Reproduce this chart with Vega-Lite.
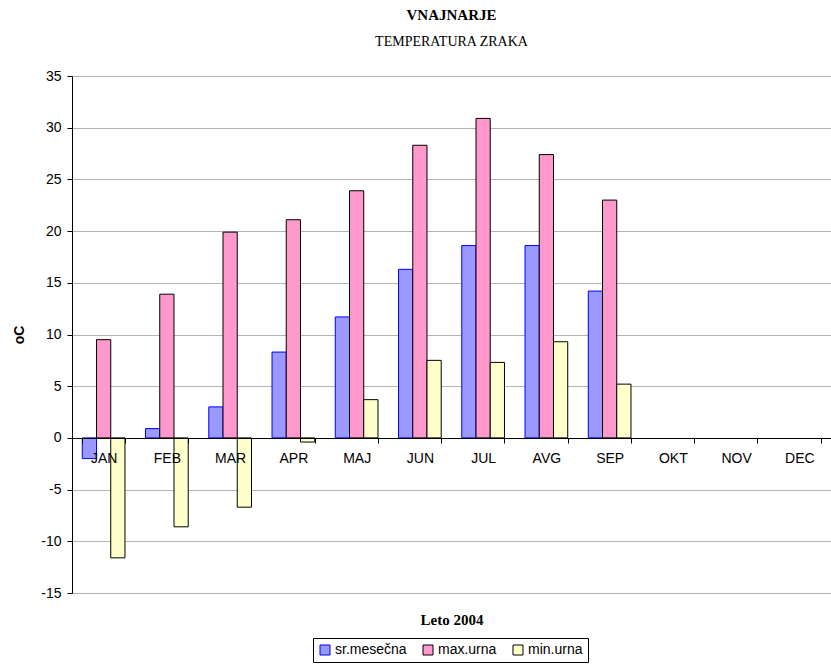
{
  "$schema": "https://vega.github.io/schema/vega-lite/v6.json",
  "width": 759,
  "height": 517,
  "autosize": {"type": "none"},
  "padding": {"left": 72, "top": 76, "right": 0, "bottom": 71},
  "background": "white",
  "title": {
    "text": "VNAJNARJE",
    "subtitle": "TEMPERATURA ZRAKA",
    "font": "Liberation Serif",
    "fontSize": 15,
    "fontWeight": "bold",
    "color": "black",
    "subtitleFont": "Liberation Serif",
    "subtitleFontSize": 14,
    "subtitleColor": "black",
    "anchor": "middle",
    "offset": 20,
    "subtitlePadding": 12
  },
  "data": {
    "values": [
      {"month": "JAN", "series": "sr.mesečna", "value": -2.0},
      {"month": "JAN", "series": "max.urna", "value": 9.5},
      {"month": "JAN", "series": "min.urna", "value": -11.6},
      {"month": "FEB", "series": "sr.mesečna", "value": 0.9},
      {"month": "FEB", "series": "max.urna", "value": 13.9},
      {"month": "FEB", "series": "min.urna", "value": -8.6},
      {"month": "MAR", "series": "sr.mesečna", "value": 3.0},
      {"month": "MAR", "series": "max.urna", "value": 19.9},
      {"month": "MAR", "series": "min.urna", "value": -6.7},
      {"month": "APR", "series": "sr.mesečna", "value": 8.3},
      {"month": "APR", "series": "max.urna", "value": 21.1},
      {"month": "APR", "series": "min.urna", "value": -0.4},
      {"month": "MAJ", "series": "sr.mesečna", "value": 11.7},
      {"month": "MAJ", "series": "max.urna", "value": 23.9},
      {"month": "MAJ", "series": "min.urna", "value": 3.7},
      {"month": "JUN", "series": "sr.mesečna", "value": 16.3},
      {"month": "JUN", "series": "max.urna", "value": 28.3},
      {"month": "JUN", "series": "min.urna", "value": 7.5},
      {"month": "JUL", "series": "sr.mesečna", "value": 18.6},
      {"month": "JUL", "series": "max.urna", "value": 30.9},
      {"month": "JUL", "series": "min.urna", "value": 7.3},
      {"month": "AVG", "series": "sr.mesečna", "value": 18.6},
      {"month": "AVG", "series": "max.urna", "value": 27.4},
      {"month": "AVG", "series": "min.urna", "value": 9.3},
      {"month": "SEP", "series": "sr.mesečna", "value": 14.2},
      {"month": "SEP", "series": "max.urna", "value": 23.0},
      {"month": "SEP", "series": "min.urna", "value": 5.2}
    ]
  },
  "mark": {"type": "bar", "strokeWidth": 1},
  "encoding": {
    "x": {
      "field": "month",
      "type": "nominal",
      "scale": {
        "domain": ["JAN", "FEB", "MAR", "APR", "MAJ", "JUN", "JUL", "AVG", "SEP", "OKT", "NOV", "DEC"],
        "paddingInner": 0.325,
        "paddingOuter": 0.1625
      },
      "axis": {
        "title": "Leto 2004",
        "titleFont": "Liberation Serif",
        "titleFontSize": 15,
        "titleFontWeight": "bold",
        "titleColor": "black",
        "titlePadding": 147,
        "offset": -155,
        "zindex": 1,
        "tickBand": "extent",
        "tickSize": 5,
        "tickColor": "black",
        "domainColor": "black",
        "labelAngle": 0,
        "labelFont": "Liberation Sans",
        "labelFontSize": 14,
        "labelColor": "black",
        "labelPadding": 8,
        "grid": false
      }
    },
    "xOffset": {
      "field": "series",
      "type": "nominal",
      "scale": {"domain": ["sr.mesečna", "max.urna", "min.urna"]}
    },
    "y": {
      "field": "value",
      "type": "quantitative",
      "scale": {"domain": [-15, 35], "nice": false, "zero": false},
      "axis": {
        "title": "oC",
        "titleFont": "Liberation Sans",
        "titleFontSize": 14,
        "titleFontWeight": "bold",
        "titleColor": "black",
        "titlePadding": 14,
        "values": [-15, -10, -5, 0, 5, 10, 15, 20, 25, 30, 35],
        "labelExpr": "toString(datum.value)",
        "tickSize": 5,
        "tickColor": "black",
        "domainColor": "black",
        "labelFont": "Liberation Sans",
        "labelFontSize": 14,
        "labelColor": "black",
        "labelPadding": 6,
        "gridColor": "#b4b4b4",
        "gridWidth": 1
      }
    },
    "color": {
      "field": "series",
      "type": "nominal",
      "scale": {"domain": ["sr.mesečna", "max.urna", "min.urna"], "range": ["#9999FF", "#FF99CC", "#FFFFCC"]},
      "legend": {"title": null}
    },
    "stroke": {
      "field": "series",
      "type": "nominal",
      "scale": {"domain": ["sr.mesečna", "max.urna", "min.urna"], "range": ["#0000FF", "#000000", "#000000"]},
      "legend": {"title": null}
    }
  },
  "config": {
    "view": {"stroke": null},
    "legend": {
      "orient": "none",
      "legendX": 241,
      "legendY": 562,
      "direction": "horizontal",
      "strokeColor": "black",
      "padding": 5,
      "columnPadding": 14,
      "symbolType": "square",
      "symbolSize": 100,
      "symbolStrokeWidth": 1,
      "symbolOpacity": 1,
      "labelFont": "Liberation Sans",
      "labelFontSize": 14,
      "labelColor": "black",
      "labelOffset": 3
    }
  }
}
